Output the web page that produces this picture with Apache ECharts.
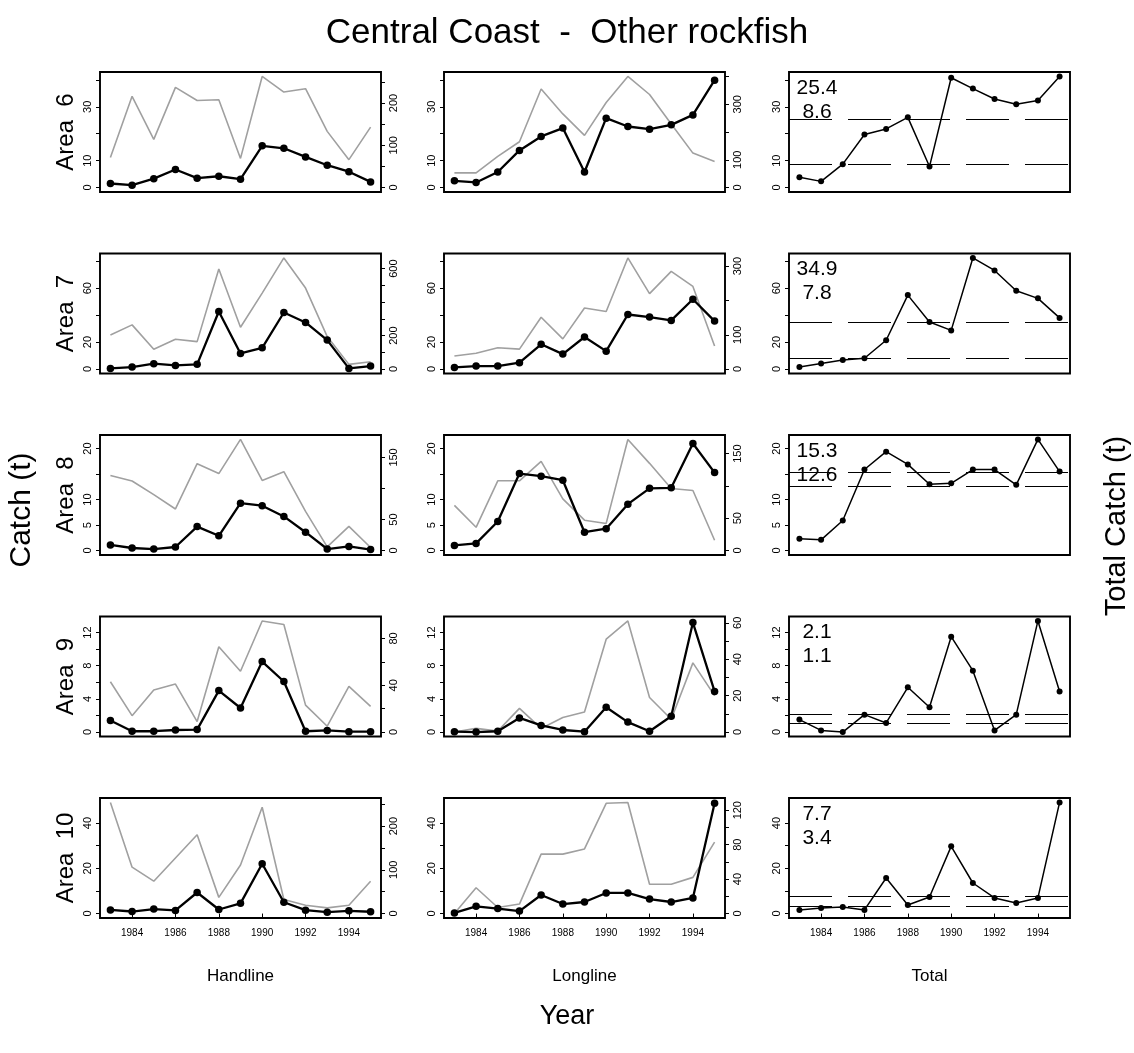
<!DOCTYPE html>
<html><head><meta charset="utf-8">
<script src="https://cdn.jsdelivr.net/npm/echarts@6/dist/echarts.min.js"></script>
<style>html,body{margin:0;padding:0;background:#fff}#c{width:1134px;height:1053px}</style>
</head><body><div id="c"></div>
<script>
// ---------------- data ----------------
const years = [1983,1984,1985,1986,1987,1988,1989,1990,1991,1992,1993,1994,1995];
const areaNames = ['Area  6','Area  7','Area  8','Area  9','Area  10'];
const gearNames = ['Handline','Longline','Total'];
const xTickYears = [1984,1986,1988,1990,1992,1994];

// Area 6
const hand6     = [1.5, 0.9, 3.3, 6.7, 3.5, 4.2, 3.1, 15.5, 14.6, 11.4, 8.3, 5.9, 2.1];
const handEff6  = [71, 216, 114, 237, 206, 208, 69, 263, 226, 234, 133, 66, 143];
const long6     = [2.5, 1.9, 5.8, 13.8, 19.0, 22.1, 5.8, 25.8, 22.7, 21.7, 23.3, 27.0, 39.9];
const longEff6  = [53, 53, 112, 165, 355, 265, 188, 306, 400, 335, 229, 124, 94];
const total6    = [3.8, 2.3, 8.7, 19.7, 21.8, 26.1, 7.8, 40.8, 36.8, 32.9, 31.0, 32.4, 41.3];
// Area 7
const hand7     = [0.5, 1.5, 4.0, 2.7, 3.5, 42.7, 11.6, 15.8, 42.0, 34.6, 21.5, 0.5, 2.2];
const handEff7  = [204, 264, 118, 178, 164, 598, 250, 454, 664, 484, 194, 28, 44];
const long7     = [1.2, 2.2, 2.2, 4.7, 18.4, 11.1, 23.8, 13.3, 40.5, 38.6, 36.1, 51.8, 35.6];
const longEff7  = [38, 46, 62, 58, 151, 88, 178, 168, 324, 220, 285, 241, 67];
const total7    = [1.6, 4.1, 6.7, 8.0, 21.4, 54.9, 34.9, 28.7, 82.5, 73.2, 58.1, 52.5, 38.0];
// Area 8
const hand8     = [1.1, 0.5, 0.3, 0.7, 4.7, 2.9, 9.3, 8.8, 6.7, 3.6, 0.3, 0.8, 0.2];
const handEff8  = [121, 112, 90, 67, 140, 124, 179, 113, 127, 63, 6, 39, 5];
const long8     = [1.0, 1.4, 5.7, 15.1, 14.6, 13.8, 3.6, 4.3, 9.1, 12.2, 12.3, 21.0, 15.3];
const longEff8  = [70, 36, 108, 108, 138, 80, 47, 42, 172, 135, 96, 93, 16];
const total8    = [2.3, 2.1, 5.9, 15.9, 19.4, 16.9, 13.0, 13.2, 15.9, 15.9, 12.9, 21.8, 15.5];
// Area 9
const hand9     = [1.4, 0.1, 0.1, 0.25, 0.3, 5.0, 2.9, 8.5, 6.1, 0.1, 0.2, 0.05, 0.05];
const handEff9  = [43, 14, 36, 41, 9, 73, 52, 95, 92, 23, 5, 39, 22];
const long9     = [0.05, 0.0, 0.1, 1.7, 0.8, 0.25, 0.05, 3.0, 1.2, 0.1, 1.9, 13.2, 4.9];
const longEff9  = [0, 2, 0.5, 13, 2, 8, 11, 51, 61, 19, 7, 38, 20];
const total9    = [1.5, 0.2, 0.0, 2.1, 1.1, 5.4, 3.0, 11.5, 7.4, 0.2, 2.1, 13.4, 4.9];
// Area 10
const hand10    = [1.6, 0.9, 2.0, 1.4, 9.3, 1.8, 4.5, 22.0, 5.0, 1.5, 0.6, 1.2, 0.8];
const handEff10 = [254, 106, 74, 127, 180, 37, 111, 243, 32, 19, 13, 19, 74];
const long10    = [0.3, 3.2, 2.2, 1.1, 8.2, 4.2, 5.1, 9.1, 9.1, 6.4, 5.1, 6.9, 48.7];
const longEff10 = [0, 30, 7, 11, 69, 69, 75, 128, 129, 34, 34, 42, 83];
const total10   = [1.6, 2.5, 2.9, 1.6, 15.7, 3.8, 7.3, 29.7, 13.5, 6.9, 4.7, 6.9, 49.1];

// reference lines (Total column)
const refHigh = [25.4, 34.9, 15.3, 2.1, 7.7];
const refLow  = [8.6, 7.8, 12.6, 1.1, 3.4];

// tick positions and tick labels
const leftTicks  = [[0,10,20,30,40],[0,20,40,60,80],[0,5,10,15,20],[0,2,4,6,8,10,12],[0,10,20,30,40]];
const leftLabels = [[0,10,30],[0,20,60],[0,5,10,20],[0,4,8,12],[0,20,40]];
const handRightTicks  = [[0,50,100,150,200,250],[0,100,200,300,400,500,600],[0,50,100,150],[0,20,40,60,80],[0,50,100,150,200,250]];
const handRightLabels = [[0,100,200],[0,200,600],[0,50,150],[0,40,80],[0,100,200]];
const longRightTicks  = [[0,100,200,300,400],[0,100,200,300],[0,50,100,150],[0,10,20,30,40,50,60],[0,20,40,60,80,100,120]];
const longRightLabels = [[0,100,300],[0,100,300],[0,50,150],[0,20,40,60],[0,40,80,120]];

// ---------------- assembly ----------------
const handCatch = [hand6, hand7, hand8, hand9, hand10];
const handEff   = [handEff6, handEff7, handEff8, handEff9, handEff10];
const longCatch = [long6, long7, long8, long9, long10];
const longEff   = [longEff6, longEff7, longEff8, longEff9, longEff10];
const totalCatch= [total6, total7, total8, total9, total10];

const FONT = '"Liberation Sans", Arial, Helvetica, sans-serif';
const colLeft = [100, 444, 789];
const gridW = 281, gridH = 120, top0 = 72, rowStep = 181.5;
const XMIN = 1982.52, XMAX = 1995.48;
const plain = v => String(v);

const grids = [], xAxes = [], yAxes = [], series = [], graphics = [];
const pairs = arr => years.map((y, i) => [y, arr[i]]);
const rng = arr => { const m = Math.max(...arr); return {min: -0.04 * m, max: 1.04 * m}; };

for (let r = 0; r < 5; r++) {
  const top = top0 + r * rowStep;
  const leftRange = rng(totalCatch[r]);
  for (let c = 0; c < 3; c++) {
    const gi = r * 3 + c;
    grids.push({left: colLeft[c], top: top, width: gridW, height: gridH, show: true,
      borderColor: '#000', borderWidth: 1.9, backgroundColor: 'transparent'});
    const bottom = r === 4;
    xAxes.push({gridIndex: gi, type: 'value', min: XMIN, max: XMAX,
      axisLine: {show: false}, splitLine: {show: false},
      axisTick: {show: bottom, customValues: xTickYears, length: 4, lineStyle: {color: '#000'}},
      axisLabel: {show: bottom, customValues: xTickYears, formatter: plain, color: '#000', fontFamily: FONT, fontSize: 10, margin: 10},
      name: bottom ? gearNames[c] : '', nameLocation: 'middle', nameGap: 50,
      nameTextStyle: {color: '#000', fontFamily: FONT, fontSize: 17}});
    const leftIdx = yAxes.length;
    yAxes.push({gridIndex: gi, type: 'value', position: 'left', min: leftRange.min, max: leftRange.max,
      axisLine: {show: false}, splitLine: {show: false},
      axisTick: {show: true, customValues: leftTicks[r], length: 4, lineStyle: {color: '#000'}},
      axisLabel: {customValues: leftLabels[r], formatter: plain, rotate: 90, color: '#000', fontFamily: FONT, fontSize: 11, margin: 7},
      name: c === 0 ? areaNames[r] : '', nameLocation: 'middle', nameGap: 22, nameRotate: 90,
      nameTextStyle: {color: '#000', fontFamily: FONT, fontSize: 24}});
    if (c < 2) {
      const eff = c === 0 ? handEff[r] : longEff[r];
      const catchArr = c === 0 ? handCatch[r] : longCatch[r];
      const rr = rng(eff);
      const rightIdx = yAxes.length;
      yAxes.push({gridIndex: gi, type: 'value', position: 'right', min: rr.min, max: rr.max,
        axisLine: {show: false}, splitLine: {show: false},
        axisTick: {show: true, customValues: c === 0 ? handRightTicks[r] : longRightTicks[r], length: 4, lineStyle: {color: '#000'}},
        axisLabel: {customValues: c === 0 ? handRightLabels[r] : longRightLabels[r], formatter: plain, rotate: 90, color: '#000', fontFamily: FONT, fontSize: 11, margin: 7}});
      series.push({type: 'line', xAxisIndex: gi, yAxisIndex: rightIdx, data: pairs(eff),
        symbol: 'none', lineStyle: {color: '#a0a0a0', width: 1.6}, z: 2, silent: true, animation: false});
      series.push({type: 'line', xAxisIndex: gi, yAxisIndex: leftIdx, data: pairs(catchArr),
        symbol: 'circle', symbolSize: 7.5, itemStyle: {color: '#000'},
        lineStyle: {color: '#000', width: 2.3}, z: 3, silent: true, animation: false});
    } else {
      series.push({type: 'line', xAxisIndex: gi, yAxisIndex: leftIdx, data: pairs(totalCatch[r]),
        symbol: 'circle', symbolSize: 6, itemStyle: {color: '#000'},
        lineStyle: {color: '#000', width: 1.5}, z: 3, silent: true, animation: false,
        markLine: {silent: true, symbol: ['none', 'none'], label: {show: false}, animation: false,
          lineStyle: {color: '#000', width: 1, type: [43, 16]},
          data: [{yAxis: refHigh[r]}, {yAxis: refLow[r]}]}});
      graphics.push({type: 'text', x: colLeft[2] + 28, y: top + 16,
        style: {text: String(refHigh[r]), font: '21px ' + FONT, fill: '#000', textAlign: 'center', textVerticalAlign: 'middle'}});
      graphics.push({type: 'text', x: colLeft[2] + 28, y: top + 40,
        style: {text: String(refLow[r]), font: '21px ' + FONT, fill: '#000', textAlign: 'center', textVerticalAlign: 'middle'}});
    }
  }
}

graphics.push({type: 'text', x: 567, y: 33,
  style: {text: 'Central Coast  -  Other rockfish', font: '35px ' + FONT, fill: '#000', textAlign: 'center', textVerticalAlign: 'middle'}});
graphics.push({type: 'text', x: 22, y: 510, rotation: Math.PI / 2,
  style: {text: 'Catch (t)', font: '30px ' + FONT, fill: '#000', textAlign: 'center', textVerticalAlign: 'middle'}});
graphics.push({type: 'text', x: 1117, y: 526, rotation: Math.PI / 2,
  style: {text: 'Total Catch (t)', font: '29px ' + FONT, fill: '#000', textAlign: 'center', textVerticalAlign: 'middle'}});
graphics.push({type: 'text', x: 567, y: 1017,
  style: {text: 'Year', font: '27px ' + FONT, fill: '#000', textAlign: 'center', textVerticalAlign: 'middle'}});

const chart = echarts.init(document.getElementById('c'), null, {renderer: 'canvas'});
chart.setOption({
  backgroundColor: '#fff', animation: false,
  grid: grids, xAxis: xAxes, yAxis: yAxes, series: series, graphic: graphics
});
</script></body></html>
